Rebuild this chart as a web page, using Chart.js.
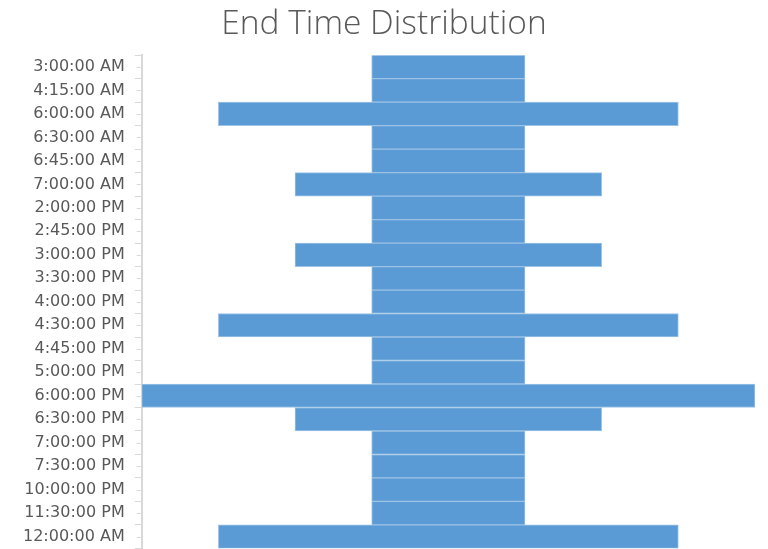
<!DOCTYPE html>
<html>
<head>
<meta charset="utf-8">
<script src="https://cdn.jsdelivr.net/npm/chart.js@4/dist/chart.umd.min.js"></script>
<style>
  html, body { margin: 0; padding: 0; background: #ffffff; overflow: hidden; }
  #wrap { width: 768px; height: 549px; overflow: hidden; }
</style>
</head>
<body>
<div id="wrap"><canvas id="c" width="768" height="568"></canvas></div>
<script>
// End times and how many records finished at each one
const endTimes = [
  "3:00:00 AM", "4:15:00 AM", "6:00:00 AM", "6:30:00 AM", "6:45:00 AM",
  "7:00:00 AM", "2:00:00 PM", "2:45:00 PM", "3:00:00 PM", "3:30:00 PM",
  "4:00:00 PM", "4:30:00 PM", "4:45:00 PM", "5:00:00 PM", "6:00:00 PM",
  "6:30:00 PM", "7:00:00 PM", "7:30:00 PM", "10:00:00 PM", "11:30:00 PM",
  "12:00:00 AM"
];
const counts = [1, 1, 3, 1, 1, 2, 1, 1, 2, 1, 1, 3, 1, 1, 4, 2, 1, 1, 1, 1, 3];

// Funnel layout: each bar is centred on zero
const centred = counts.map(v => [-v / 2, v / 2]);

// Small ticks at the middle of each category, next to the axis line
const midTicks = {
  id: 'midTicks',
  afterDraw(chart) {
    const y = chart.scales.y;
    const ctx = chart.ctx;
    ctx.save();
    ctx.strokeStyle = '#d9d9d9';
    ctx.lineWidth = 1;
    for (let i = 0; i < endTimes.length; i++) {
      const py = Math.round(y.getPixelForValue(i)) + 0.5;
      ctx.beginPath();
      ctx.moveTo(y.right - 5, py);
      ctx.lineTo(y.right - 1, py);
      ctx.stroke();
    }
    ctx.restore();
  }
};

new Chart(document.getElementById('c'), {
  type: 'bar',
  data: {
    labels: endTimes,
    datasets: [{
      data: centred,
      backgroundColor: '#5b9bd5',
      borderColor: '#9dc3e6',
      borderWidth: 1,
      borderSkipped: false,
      categoryPercentage: 1.0,
      barPercentage: 1.0
    }]
  },
  options: {
    indexAxis: 'y',
    responsive: false,
    animation: false,
    layout: { padding: { top: 0, right: 13, bottom: 0, left: 13 } },
    plugins: {
      legend: { display: false },
      tooltip: { enabled: false },
      title: {
        display: true,
        text: 'End Time Distribution',
        color: '#595959',
        font: { family: 'Open Sans', size: 33.5, weight: '300' },
        padding: { top: 4, bottom: 11 }
      }
    },
    scales: {
      x: {
        display: false,
        min: -2,
        max: 2
      },
      y: {
        offset: true,
        grid: {
          display: true,
          offset: true,
          drawOnChartArea: false,
          drawTicks: true,
          tickLength: 7,
          color: '#d9d9d9'
        },
        border: { display: true, color: '#d9d9d9', width: 2 },
        ticks: {
          color: '#595959',
          font: { family: 'DejaVu Sans', size: 16 },
          padding: 10,
          autoSkip: false
        }
      }
    }
  },
  plugins: [midTicks]
});
</script>
</body>
</html>
